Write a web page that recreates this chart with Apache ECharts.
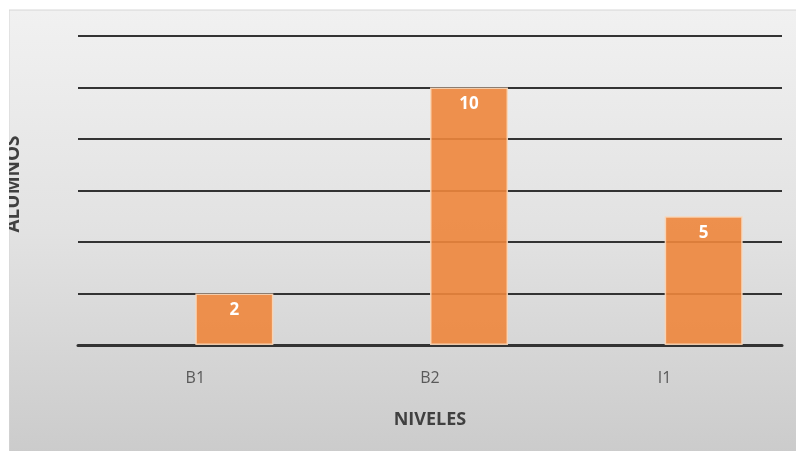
<!DOCTYPE html>
<html>
<head>
<meta charset="utf-8">
<script src="https://cdn.jsdelivr.net/npm/echarts@6/dist/echarts.min.js"></script>
<style>
  html, body { margin: 0; padding: 0; background: #ffffff; }
  #chart { width: 796px; height: 451px; }
</style>
</head>
<body>
<div id="chart"></div>
<script>
// Alumnos por nivel
const categories = ['B1', 'B2', 'I1'];
const alumnos = [2, 10, 5];
const placeholder = ['-', '-', '-'];   // empty first slot of each cluster
const yMin = 0, yMax = 12, yStep = 2;

const chart = echarts.init(document.getElementById('chart'), null, { renderer: 'canvas' });

const font = '"Open Sans", "Noto Sans", sans-serif';

chart.setOption({
  animation: false,
  backgroundColor: '#ffffff',
  graphic: [
    {
      type: 'rect', z: -10, silent: true,
      shape: { x: 9, y: 10, width: 790, height: 445 },
      style: {
        fill: new echarts.graphic.LinearGradient(0, 0, 0, 1, [
          { offset: 0, color: '#f1f1f1' },
          { offset: 0.5, color: '#e2e2e2' },
          { offset: 1, color: '#cbcbcb' }
        ]),
        stroke: '#d6d6d6', lineWidth: 1
      }
    },
    {
      type: 'text', z: 5, silent: true,
      x: 23, y: 184, rotation: Math.PI / 2,
      style: {
        text: 'ALUMNOS', fill: '#404040',
        font: 'bold 19px ' + font,
        align: 'center', verticalAlign: 'bottom'
      }
    },
    {
      type: 'rect', z: 10, silent: true,
      shape: { x: 0, y: 0, width: 9, height: 451 },
      style: { fill: '#ffffff' }
    }
  ],
  grid: { left: 78, right: 14, top: 36, bottom: 106, containLabel: false },
  xAxis: {
    type: 'category',
    data: categories,
    axisLine: { show: true, lineStyle: { color: '#333333', width: 3 } },
    axisTick: { show: false },
    axisLabel: { color: '#595959', fontSize: 16, fontFamily: font, margin: 25 },
    name: 'NIVELES',
    nameLocation: 'middle',
    nameGap: 66,
    nameTextStyle: { color: '#404040', fontSize: 18, fontWeight: 'bold', fontFamily: font }
  },
  yAxis: {
    type: 'value',
    min: yMin, max: yMax, interval: yStep,
    axisLine: { show: false },
    axisTick: { show: false },
    axisLabel: { show: false },
    splitLine: { show: true, lineStyle: { color: '#333333', width: 2 } }
  },
  series: [
    {
      type: 'bar',
      data: placeholder,
      barGap: '0%',
      barCategoryGap: '33.5%'
    },
    {
      type: 'bar',
      data: alumnos,
      barGap: '0%',
      barCategoryGap: '33.5%',
      itemStyle: {
        color: 'rgba(238, 134, 60, 0.9)',
        borderColor: 'rgba(250, 215, 185, 0.9)',
        borderWidth: 1.5
      },
      label: {
        show: true,
        position: 'insideTop',
        distance: 8,
        color: '#ffffff',
        fontSize: 17,
        fontWeight: 'bold',
        fontFamily: font
      },
      z: 3
    }
  ]
});
</script>
</body>
</html>
